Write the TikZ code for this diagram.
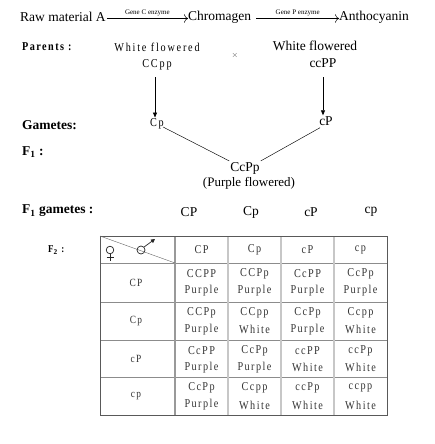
\documentclass[tikz,border=0pt]{standalone}
\usepackage{fontspec}
\setmainfont{Liberation Serif}
\newfontfamily\spaced[FakeStretch=0.85, LetterSpace=15]{Liberation Serif}
\newfontfamily\spacedb[FakeStretch=0.85, LetterSpace=12]{Liberation Serif Bold}
\newfontfamily\cellfont[FakeStretch=0.85, LetterSpace=12]{Liberation Serif}
\usetikzlibrary{arrows.meta}
\begin{document}
\begin{tikzpicture}[x=1pt,y=-1pt,
  ttl/.style={font=\fontsize{13.5}{15}\selectfont, inner sep=0pt, anchor=west},
  enz/.style={font=\fontsize{7}{8}\selectfont, inner sep=0pt},
  lab/.style={font=\bfseries\fontsize{13.5}{15}\selectfont, anchor=west, inner sep=0pt},
  labs/.style={font=\spacedb\fontsize{12}{14}\selectfont, anchor=west, inner sep=0pt},
  txt/.style={font=\fontsize{13.5}{15}\selectfont, inner sep=1pt},
  stxt/.style={font=\spaced\fontsize{12}{14}\selectfont, inner sep=1pt},
  cell/.style={font=\cellfont\fontsize{12}{13}\selectfont, text=black!80, inner sep=0pt},
  hdr/.style={font=\cellfont\fontsize{11}{12}\selectfont, text=black!80, inner sep=0pt},
  arr/.style={-{Triangle[length=5pt,width=4pt]}, line width=0.7pt},
  thinline/.style={line width=0.45pt}
]
\useasboundingbox (0,0) rectangle (434,444);
% title line
\node[ttl] (raw) at (20,17) {Raw material A};
\node[ttl] (chr) at (188,17) {Chromagen};
\node[ttl] (ant) at (339,17) {Anthocyanin};
\draw[-{To[length=4pt]}, line width=0.5pt] (raw.east) ++(1,1.5) coordinate (a1) -- (a1 -| chr.west) node[enz, midway, above=2pt] {Gene C enzyme};
\draw[-{To[length=4pt]}, line width=0.5pt] (chr.east) ++(5,1.5) coordinate (a2) -- (a2 -| ant.west) node[enz, midway, above=2pt] {Gene P enzyme};
% parents
\node[labs] (par) at (22,47) {Parents :};
\node[stxt] (w1) at (157,47) {White flowered};
\node[stxt] (g1) at (157,65) {CCpp};
\node[font=\fontsize{8}{9}\selectfont, text=black!70] (x) at (235,56) {$\times$};
\node[txt] (w2) at (315,46) {White flowered};
\node[txt] (g2) at (323,63) {ccPP};
% gametes
\node[lab] (gam) at (22,125) {Gametes:};
\node[stxt] (c1) at (157,124) {Cp};
\node[txt] (c2) at (326,121) {cP};
\draw[arr] (155,77) coordinate (s1) -- (c1.north -| s1);
\draw[arr] (323,77) coordinate (s2) -- (c2.north -| s2);
% F1
\node[lab] (f1) at (22,152) {F$_{\mathbf{1}}$ :};
\node[txt] (f1g) at (245,168) {CcPp};
\node[txt, font=\fontsize{13}{15}\selectfont] (f1p) at (249,183) {(Purple flowered)};
\draw[thinline] (c1.east) ++(-2,3) coordinate (l1) -- (f1g.north west);
\draw[thinline] (c2.south west) ++(2,1) coordinate (l2) -- (f1g.north east);
% F1 gametes
\node[lab] (f1gam) at (22,211) {F$_{\mathbf{1}}$ gametes :};
\node[txt] (ga) at (189,212) {CP};
\node[txt] (gb) at (251,212) {Cp};
\node[txt] (gc) at (311,212) {cP};
\node[txt] (gd) at (371,212) {cp};
% F2
\node[labs, font=\spacedb\fontsize{10.5}{12}\selectfont] (f2) at (48,250) {F$_{\mathbf{2}}$ :};
% table
\coordinate (tl) at (100,236);
\coordinate (br) at (387,415);
\foreach \y in {263,302,340,377} \draw[black!45, line width=0.5pt] (100,\y) -- (387,\y);
\foreach \x in {228,281,334} \draw[black!22, line width=1.6pt] (\x,236) -- (\x,415);
\draw[black!40, line width=1.4pt] (175,236) -- (175,415);
\draw[black!65, line width=0.7pt] (tl) rectangle (br);
\draw[black!60, line width=0.4pt] (tl) -- (175,263);
% female symbol
\draw[black!85, line width=0.7pt] (110,250) circle (3.8);
\draw[black!85, line width=0.7pt] (110,253.8) -- (110,261) (106.5,257.5) -- (113.5,257.5);
% male symbol
\draw[black!85, line width=0.7pt] (141,250) circle (4);
\draw[black!85, line width=0.7pt, -{Triangle[length=4pt,width=4pt]}] (143.8,247.2) -- (155,239);
% header
\node[cell] (h1) at (201.5,250) {CP};
\node[cell] (h2) at (254.5,250) {Cp};
\node[cell] (h3) at (307.5,250) {cP};
\node[cell] (h4) at (360.5,250) {cp};
% rows
\node[hdr] (r1) at (136,283) {CP};
\node[hdr] (r2) at (136,321) {Cp};
\node[hdr] (r3) at (136,359) {cP};
\node[hdr] (r4) at (136,396) {cp};
\foreach \yc/\ga/\pa/\gb/\pb/\gc/\pc/\gd/\pd [count=\i] in {
  282/CCPP/Purple/CCPp/Purple/CcPP/Purple/CcPp/Purple,
  320.5/CCPp/Purple/CCpp/White/CcPp/Purple/Ccpp/White,
  358.5/CcPP/Purple/CcPp/Purple/ccPP/White/ccPp/White,
  396/CcPp/Purple/Ccpp/White/ccPp/White/ccpp/White}{
  \node[cell] (c\i a) at (201.5,\yc-8) {\ga};
  \node[cell] (p\i a) at (201.5,\yc+9) {\pa};
  \node[cell] (c\i b) at (254.5,\yc-8) {\gb};
  \node[cell] (p\i b) at (254.5,\yc+9) {\pb};
  \node[cell] (c\i c) at (307.5,\yc-8) {\gc};
  \node[cell] (p\i c) at (307.5,\yc+9) {\pc};
  \node[cell] (c\i d) at (360.5,\yc-8) {\gd};
  \node[cell] (p\i d) at (360.5,\yc+9) {\pd};
}
\end{tikzpicture}
\end{document}
